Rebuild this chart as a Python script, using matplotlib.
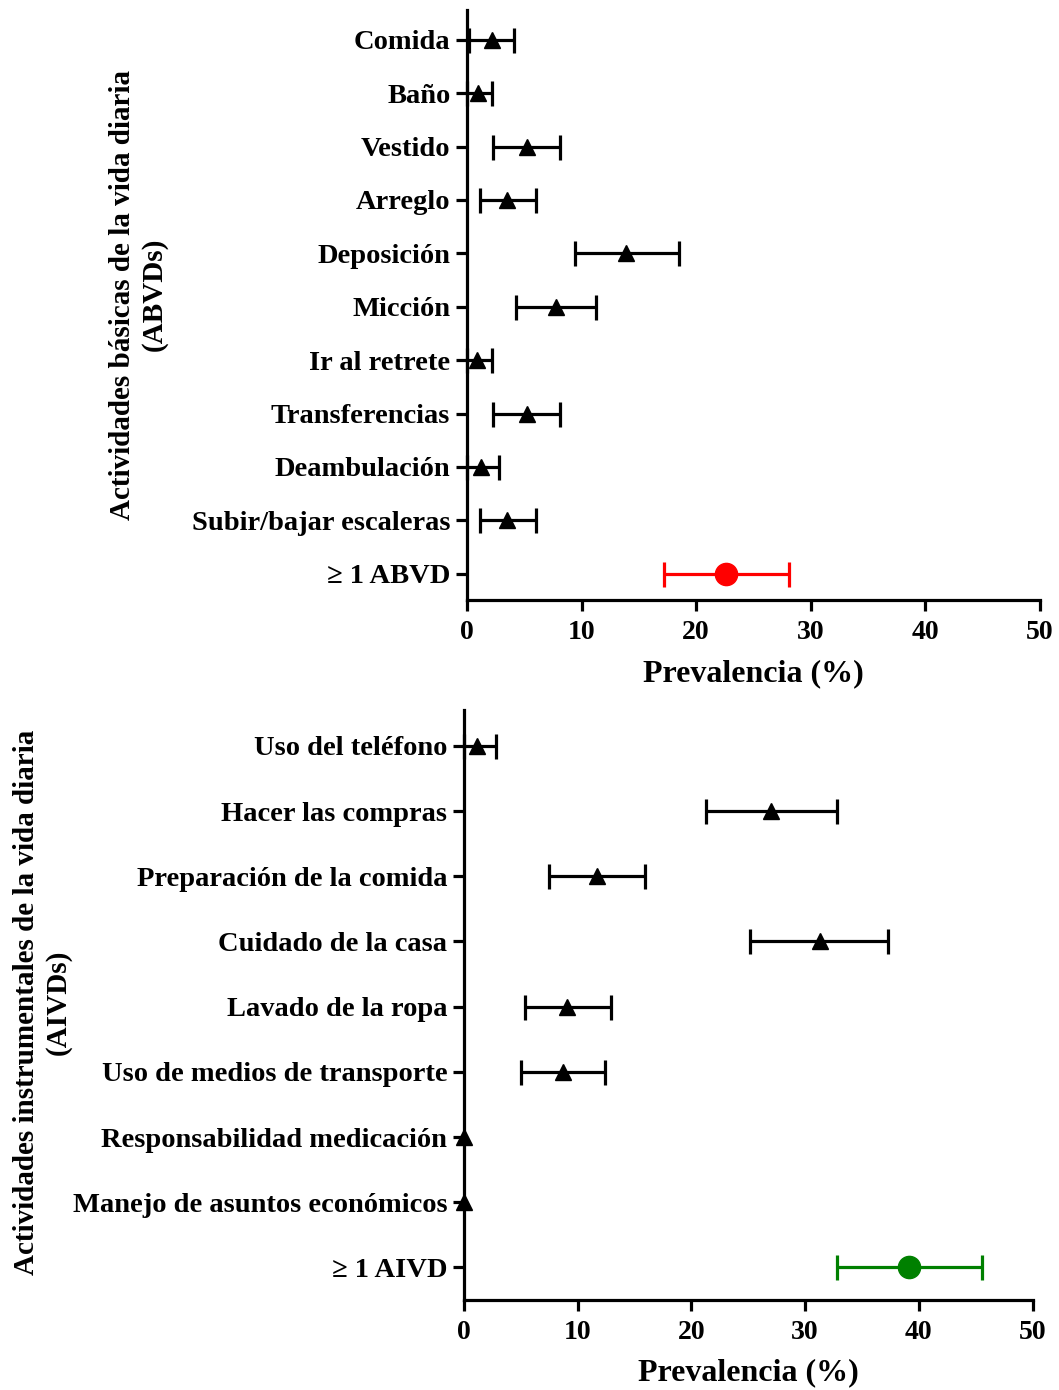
import numpy as np
import matplotlib
matplotlib.use('Agg')
import matplotlib.pyplot as plt

plt.rcParams['font.family'] = ['Liberation Serif', 'DejaVu Serif']
plt.rcParams['font.weight'] = 'bold'

# ABVD panel
abvd_labels = ['Comida', 'Baño', 'Vestido', 'Arreglo', 'Deposición', 'Micción',
               'Ir al retrete', 'Transferencias', 'Deambulación',
               'Subir/bajar escaleras', '≥ 1 ABVD']
abvd_val = [2.2, 1.0, 5.2, 3.5, 13.9, 7.8, 0.9, 5.2, 1.2, 3.5, 22.6]
abvd_lo = [0.2, 0.0, 2.3, 1.1, 9.4, 4.3, 0.0, 2.3, 0.0, 1.1, 17.2]
abvd_hi = [4.1, 2.2, 8.1, 6.0, 18.5, 11.3, 2.2, 8.1, 2.8, 6.0, 28.1]

# AIVD panel
aivd_labels = ['Uso del teléfono', 'Hacer las compras', 'Preparación de la comida',
               'Cuidado de la casa', 'Lavado de la ropa', 'Uso de medios de transporte',
               'Responsabilidad medicación', 'Manejo de asuntos económicos', '≥ 1 AIVD']
aivd_val = [1.2, 27.0, 11.7, 31.3, 9.1, 8.7, 0.0, 0.0, 39.1]
aivd_lo = [0.0, 21.3, 7.5, 25.2, 5.4, 5.0, 0.0, 0.0, 32.8]
aivd_hi = [2.8, 32.8, 15.9, 37.3, 12.9, 12.4, 0.0, 0.0, 45.6]

xticks = [0, 10, 20, 30, 40, 50]


def panel(ax, labels, val, lo, hi, summary_color):
    n = len(labels)
    y = np.arange(n)
    val = np.array(val)
    err = np.array([val - np.array(lo), np.array(hi) - val])
    for i in range(n):
        last = i == n - 1
        c = summary_color if last else 'black'
        if hi[i] > lo[i]:
            ax.errorbar(val[i], y[i], xerr=err[:, i:i + 1], fmt='none', ecolor=c,
                        elinewidth=2.3, capsize=9, capthick=2.3, clip_on=False, zorder=3)
        ax.plot(val[i], y[i], marker='o' if last else '^', color=c,
                markersize=16 if last else 11, linestyle='none', clip_on=False, zorder=4)
    ax.set_xlim(0, 50)
    ax.set_ylim(n - 0.5, -0.55)
    ax.set_yticks(y)
    ax.set_yticklabels(labels, fontsize=20.5, fontweight='bold')
    ax.set_xticks(xticks)
    ax.set_xticklabels([str(t) for t in xticks], fontsize=20, fontweight='bold')
    ax.spines['top'].set_visible(False)
    ax.spines['right'].set_visible(False)
    for s in ['left', 'bottom']:
        ax.spines[s].set_linewidth(2.3)
    ax.tick_params(axis='both', width=2.3, length=8, direction='out')
    ax.tick_params(axis='y', pad=4)
    ax.tick_params(axis='x', pad=6)
    ax.set_xlabel('Prevalencia (%)', fontsize=23, fontweight='bold', labelpad=10)


fig = plt.figure(figsize=(10.59, 13.90), dpi=100)
ax1 = fig.add_axes([0.441, 0.568, 0.541, 0.4245])
ax2 = fig.add_axes([0.438, 0.0647, 0.537, 0.4245])

panel(ax1, abvd_labels, abvd_val, abvd_lo, abvd_hi, '#ff0000')
panel(ax2, aivd_labels, aivd_val, aivd_lo, aivd_hi, '#008000')

fig.text(0.131, 0.788, 'Actividades básicas de la vida diaria\n(ABVDs)', rotation=90,
         ha='center', va='center', fontsize=21, fontweight='bold', multialignment='center')
fig.text(0.040, 0.279, 'Actividades instrumentales de la vida diaria\n(AIVDs)', rotation=90,
         ha='center', va='center', fontsize=21, fontweight='bold', multialignment='center')

fig.savefig('out.png', dpi=100)
